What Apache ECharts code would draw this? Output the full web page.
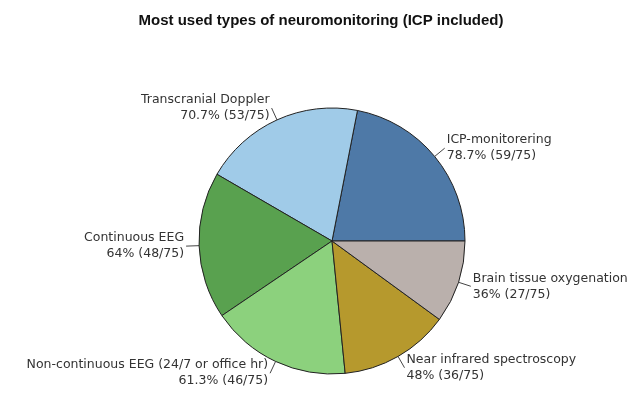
<!DOCTYPE html>
<html>
<head>
<meta charset="utf-8">
<script src="https://cdn.jsdelivr.net/npm/echarts@6/dist/echarts.min.js"></script>
<style>
	html, body { margin: 0; padding: 0; background: #fff; }
	#chart { width: 642px; height: 413px; }
</style>
</head>
<body>
<div id="chart"></div>
<script>
// pie data, counter-clockwise from 3 o'clock
var names = ['ICP-monitorering', 'Transcranial Doppler', 'Continuous EEG',
	'Non-continuous EEG (24/7 or office hr)', 'Near infrared spectroscopy', 'Brain tissue oxygenation'];
var counts = [59, 53, 48, 46, 36, 27];
var total = 75;
var colors = ['#4e79a7', '#a0cbe8', '#59a14f', '#8cd17d', '#b6992d', '#bab0ac'];

var data = [];
for (var i = 0; i < names.length; i++) {
	data.push({ name: names[i], value: counts[i], itemStyle: { color: colors[i] } });
}

function pct(v) {
	var p = Math.round(v / total * 1000) / 10;
	return p + '%';
}

var myChart = echarts.init(document.getElementById('chart'));
var option = {
	backgroundColor: '#fff',
	animation: false,
	title: {
		text: 'Most used types of neuromonitoring (ICP included)',
		left: 316,
		textAlign: 'center',
		top: 8,
		textStyle: {
			fontFamily: 'Liberation Sans',
			fontSize: 15,
			fontWeight: 'bold',
			color: '#111'
		}
	},
	series: [{
		type: 'pie',
		center: [332, 241],
		radius: 133,
		startAngle: 0,
		clockwise: false,
		avoidLabelOverlap: false,
		itemStyle: {
			borderColor: '#222',
			borderWidth: 1
		},
		label: {
			show: true,
			position: 'outside',
			distanceToLabelLine: 2,
			fontFamily: 'DejaVu Sans',
			fontSize: 12.5,
			lineHeight: 16,
			color: '#333',
			formatter: function(p) {
				return p.name + '\n' + pct(p.value) + ' (' + p.value + '/' + total + ')';
			}
		},
		labelLine: {
			show: true,
			length: 13,
			length2: 0,
			lineStyle: { color: '#444', width: 1 }
		},
		data: data
	}]
};
myChart.setOption(option);
</script>
</body>
</html>
